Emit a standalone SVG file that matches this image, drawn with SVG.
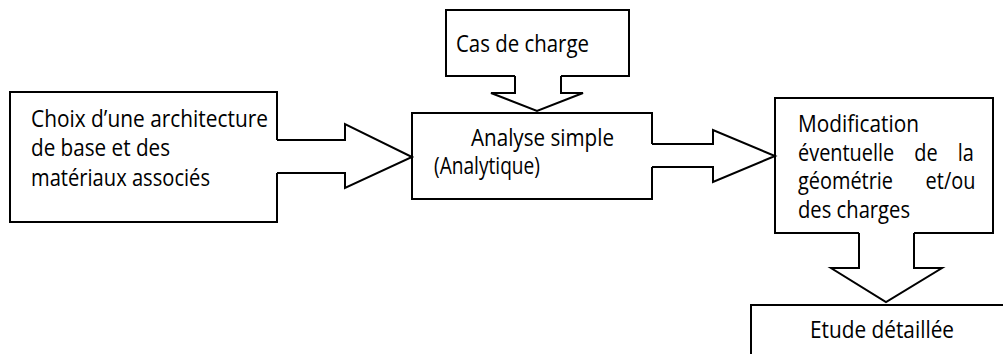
<svg xmlns="http://www.w3.org/2000/svg" width="1003" height="354" viewBox="0 0 1003 354">
  <style>
    .box { fill: #ffffff; stroke: #000000; stroke-width: 2; }
    .arrow-fill { fill: #ffffff; stroke: none; }
    .arrow-line { fill: none; stroke: #000000; stroke-width: 2; stroke-linejoin: miter; }
    .label { font-family: "Open Sans", "Noto Sans", "Liberation Sans", sans-serif; font-size: 24px; fill: #000000; }
  </style>
  <rect width="1003" height="354" fill="#ffffff"/>

  <!-- boxes; labels use a condensed horizontal scale of 0.83 -->
  <g id="node-architecture">
    <rect class="box" x="10" y="92" width="267" height="130"/>
    <text class="label" transform="matrix(0.83 0 0 1 31 127)" textLength="285.5" lengthAdjust="spacingAndGlyphs">Choix d’une architecture</text>
    <text class="label" transform="matrix(0.83 0 0 1 31 156)" textLength="167.5" lengthAdjust="spacingAndGlyphs">de base et des</text>
    <text class="label" transform="matrix(0.83 0 0 1 31 186)" textLength="215.7" lengthAdjust="spacingAndGlyphs">matériaux associés</text>
  </g>

  <g id="node-cas-de-charge">
    <rect class="box" x="446" y="10" width="183" height="66"/>
    <text class="label" transform="matrix(0.83 0 0 1 456 52)" textLength="160.2" lengthAdjust="spacingAndGlyphs">Cas de charge</text>
  </g>

  <g id="node-analyse">
    <rect class="box" x="412" y="113" width="240" height="86"/>
    <text class="label" transform="matrix(0.83 0 0 1 471 146)" textLength="172.3" lengthAdjust="spacingAndGlyphs">Analyse simple</text>
    <text class="label" transform="matrix(0.83 0 0 1 434 174)" textLength="127.7" lengthAdjust="spacingAndGlyphs">(Analytique)</text>
  </g>

  <g id="node-modification">
    <rect class="box" x="775" y="98" width="218" height="135"/>
    <text class="label" transform="matrix(0.83 0 0 1 798 132)" textLength="145.8" lengthAdjust="spacingAndGlyphs">Modification</text>
    <!-- justified lines: widened word spacing -->
    <text class="label" transform="matrix(0.83 0 0 1 798 161)" word-spacing="18">éventuelle de la</text>
    <text class="label" transform="matrix(0.83 0 0 1 798 189)" word-spacing="33">géométrie et/ou</text>
    <text class="label" transform="matrix(0.83 0 0 1 798 218)" textLength="135" lengthAdjust="spacingAndGlyphs">des charges</text>
  </g>

  <g id="node-etude">
    <rect class="box" x="751" y="305" width="300" height="100"/>
    <text class="label" transform="matrix(0.83 0 0 1 810 338)" textLength="173.5" lengthAdjust="spacingAndGlyphs">Etude détaillée</text>
  </g>

  <!-- block arrows: white body hides the box edge where the shaft leaves it -->
  <g id="connectors">
    <g id="arrow-architecture-analyse">
      <polygon class="arrow-fill" points="275,140 345,140 345,124 412,157 345,188 345,173 275,173"/>
      <polyline class="arrow-line" points="277,140 345,140 345,124 412,157 345,188 345,173 277,173"/>
    </g>
    <g id="arrow-cas-analyse">
      <polygon class="arrow-fill" points="515,74 515,93 491,93 537,111 583,93 561,93 561,74"/>
      <polyline class="arrow-line" points="515,76 515,93 491,93 537,111 583,93 561,93 561,76"/>
    </g>
    <g id="arrow-analyse-modification">
      <polygon class="arrow-fill" points="650,144 713,144 713,130 775,156 713,182 713,167 650,167"/>
      <polyline class="arrow-line" points="652,144 713,144 713,130 775,156 713,182 713,167 652,167"/>
    </g>
    <g id="arrow-modification-etude">
      <polygon class="arrow-fill" points="859,231 859,268 831,268 886,302 942,268 914,268 914,231"/>
      <polyline class="arrow-line" points="859,233 859,268 831,268 886,302 942,268 914,268 914,233"/>
    </g>
  </g>
</svg>
